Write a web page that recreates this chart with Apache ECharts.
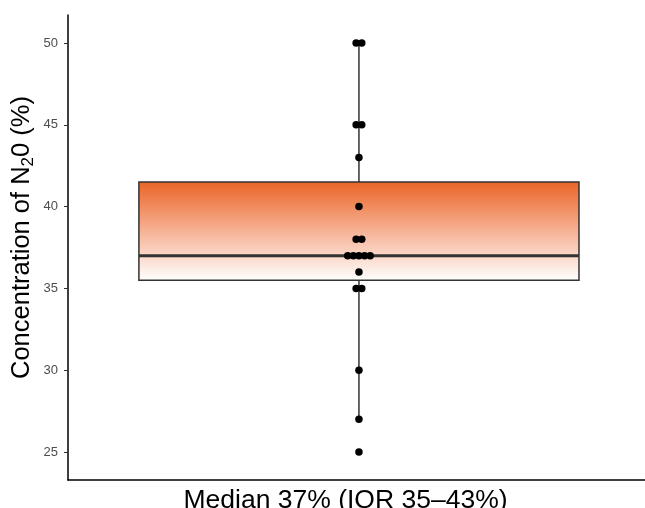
<!DOCTYPE html>
<html>
<head>
<meta charset="utf-8">
<script src="https://cdn.jsdelivr.net/npm/echarts@6/dist/echarts.min.js"></script>
<style>
  html, body { margin: 0; padding: 0; background: #fff; }
  #chart { width: 645px; height: 508px; }
</style>
</head>
<body>
<div id="chart"></div>
<script>
// observations (%), one per dot
var values = [50, 50, 45, 45, 43, 40, 38, 38, 37, 37, 37, 37, 37, 36, 35, 35, 30, 27, 25];
// whisker low, Q1, median, Q3, whisker high
var boxStats = [27, 35.5, 37, 41.5, 50];
var yTicks = [25, 30, 35, 40, 45, 50];
var groupLabel = 'Median 37% (IQR 35–43%)';

var center = 1;
var boxHalf = 0.45;
var dotStep = 0.0115;

// stack equal values side by side, centred on the box
var counts = {};
values.forEach(function (v) { counts[v] = (counts[v] || 0) + 1; });
var seen = {};
var dots = values.map(function (v) {
  var i = seen[v] || 0;
  seen[v] = i + 1;
  return [center + (i - (counts[v] - 1) / 2) * dotStep, v];
});

var chart = echarts.init(document.getElementById('chart'));

chart.setOption({
  animation: false,
  grid: { left: 68, right: 0, top: 15, bottom: 28, outerBoundsMode: 'none', containLabel: false },
  xAxis: {
    type: 'value',
    min: 0.405,
    max: 1.585,
    splitLine: { show: false },
    axisTick: { show: false },
    axisLabel: { show: false },
    axisLine: { show: true, onZero: false, lineStyle: { color: '#000', width: 1.5 } },
    name: groupLabel,
    nameLocation: 'middle',
    nameGap: 7,
    nameTextStyle: { fontSize: 26.5, color: '#000', fontFamily: 'Liberation Sans', verticalAlign: 'top', padding: [0, 22, 0, 0] }
  },
  yAxis: {
    type: 'value',
    min: 23.29,
    max: 51.71,
    splitLine: { show: false },
    axisLine: { show: true, onZero: false, lineStyle: { color: '#000', width: 1.5 } },
    axisTick: { show: true, customValues: yTicks, length: 4, lineStyle: { color: '#333', width: 1 } },
    axisLabel: { customValues: yTicks, color: '#4d4d4d', fontSize: 13, fontFamily: 'Liberation Sans', margin: 10 },
    name: '{t|Concentration of N}{s|2}{t|0 (%)}',
    nameLocation: 'middle',
    nameMoveOverlap: false,
    nameGap: 31,
    nameTextStyle: {
      padding: [0, 0, 0, 20],
      rich: {
        t: { fontSize: 25.5, color: '#000', fontFamily: 'Liberation Sans', lineHeight: 30, verticalAlign: 'middle' },
        s: { fontSize: 17, color: '#000', fontFamily: 'Liberation Sans', lineHeight: 30, verticalAlign: 'bottom', padding: [12, 0, 0, 0] }
      }
    }
  },
  series: [
    {
      type: 'custom',
      data: [[center].concat(boxStats)],
      renderItem: function (params, api) {
        var lo = api.coord([center - boxHalf, api.value(1)]);
        var q1 = api.coord([center - boxHalf, api.value(2)]);
        var med = api.coord([center - boxHalf, api.value(3)]);
        var q3 = api.coord([center + boxHalf, api.value(4)]);
        var hi = api.coord([center, api.value(5)]);
        var mid = api.coord([center, api.value(3)])[0];
        var stroke = { stroke: '#333', lineWidth: 1.5 };
        return {
          type: 'group',
          children: [
            { type: 'line', shape: { x1: mid, y1: lo[1], x2: mid, y2: q1[1] }, style: stroke },
            { type: 'line', shape: { x1: mid, y1: q3[1], x2: mid, y2: hi[1] }, style: stroke },
            {
              type: 'rect',
              shape: { x: q1[0], y: q3[1], width: q3[0] - q1[0], height: q1[1] - q3[1] },
              style: {
                fill: new echarts.graphic.LinearGradient(0, 0, 0, 1, [
                  { offset: 0, color: '#ea6426' },
                  { offset: 0.5, color: '#f6b295' },
                  { offset: 1, color: '#ffffff' }
                ]),
                stroke: '#333',
                lineWidth: 1.5
              }
            },
            { type: 'line', shape: { x1: q1[0], y1: med[1], x2: q3[0], y2: med[1] }, style: { stroke: '#333', lineWidth: 3 } }
          ]
        };
      },
      z: 1
    },
    {
      type: 'scatter',
      data: dots,
      symbol: 'circle',
      symbolSize: 7.5,
      itemStyle: { color: '#000', opacity: 1 },
      z: 3
    }
  ]
});
</script>
</body>
</html>
